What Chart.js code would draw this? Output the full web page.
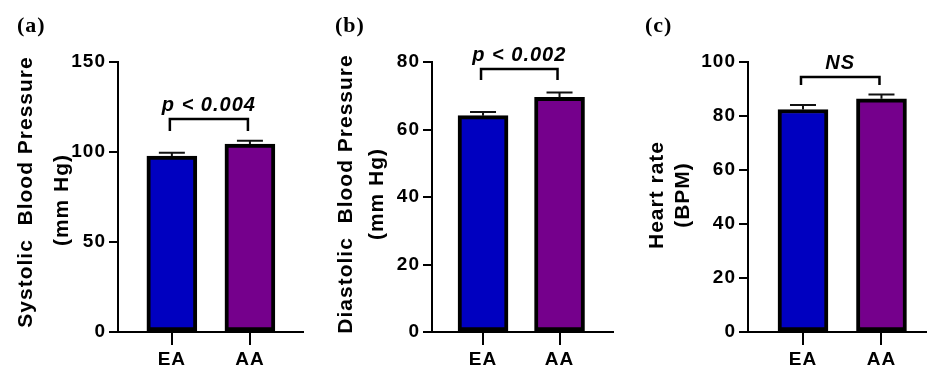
<!DOCTYPE html>
<html><head><meta charset="utf-8">
<script src="https://cdn.jsdelivr.net/npm/chart.js@4.4.0/dist/chart.umd.min.js"></script>
<style>
html,body{margin:0;padding:0;background:#fff;}
#wrap{position:relative;width:927px;height:369px;overflow:hidden;background:#fff;}
canvas{position:absolute;top:0;}
</style></head><body>
<div id="wrap">
<canvas id="ca" width="310" height="369" style="left:0px"></canvas>
<canvas id="cb" width="310" height="369" style="left:310px"></canvas>
<canvas id="cc" width="307" height="369" style="left:620px"></canvas>
</div>
<script>
// ---- data ----
const categories = ['EA', 'AA'];
const systolic = [97.8, 104.4];
const systolicErr = [1.8, 1.8];
const diastolic = [64.1, 69.5];
const diastolicErr = [1.1, 1.5];
const heartRate = [82.4, 86.4];
const heartRateErr = [1.7, 1.6];
const yMaxes = [150, 80, 100];
const ySteps = [50, 20, 20];
const pLabels = ['p < 0.004', 'p < 0.002', 'NS'];
const bracketLevels = [118.3, 77.9, 94.4];
const bracketFeet = [111.7, 74.7, 91.5];
const panelLabels = ['(a)', '(b)', '(c)'];
const yTitles = [['Systolic  Blood Pressure', '(mm Hg)'], ['Diastolic  Blood Pressure', '(mm Hg)'], ['Heart rate', '(BPM)']];

// ---- style ----
const FAM = '"Liberation Sans", Arial, Helvetica, sans-serif';
const LS = '1px';
const barColors = ['#0000C0', '#75008C'];
const panels = [
  {id:'ca', values:systolic, errors:systolicErr, yw:118, rp:7, xmin:0.31, xmax:2.68, tx:[26, 62], ty:[192, 200], lx:17},
  {id:'cb', values:diastolic, errors:diastolicErr, yw:122, rp:7, xmin:0.333, xmax:2.699, tx:[36, 67], ty:[194, 194], lx:25},
  {id:'cc', values:heartRate, errors:heartRateErr, yw:128, rp:0, xmin:0.2994, xmax:2.58, tx:[37, 63], ty:[195, 195], lx:25}
];

const decor = {
  id: 'decor',
  beforeUpdate(chart) { chart.ctx.letterSpacing = LS; },
  beforeDraw(chart) { chart.ctx.letterSpacing = LS; },
  afterDatasetsDraw(chart, args, o) {
    const ctx = chart.ctx, y = chart.scales.y;
    const meta = chart.getDatasetMeta(0);
    ctx.save();
    ctx.letterSpacing = LS;
    // error bars
    ctx.strokeStyle = '#111'; ctx.lineWidth = 2;
    meta.data.forEach((bar, i) => {
      const v = o.values[i], e = o.errors[i];
      const yb = y.getPixelForValue(v), yt = y.getPixelForValue(v + e);
      ctx.beginPath();
      ctx.moveTo(bar.x, yb); ctx.lineTo(bar.x, yt);
      ctx.moveTo(bar.x - 13, yt); ctx.lineTo(bar.x + 13, yt);
      ctx.stroke();
    });
    // significance bracket
    const x1 = meta.data[0].x - 2, x2 = meta.data[1].x - 2;
    const yl = y.getPixelForValue(o.level), yf = y.getPixelForValue(o.foot);
    ctx.strokeStyle = '#000'; ctx.lineWidth = 2.5;
    ctx.beginPath();
    ctx.moveTo(x1, yf); ctx.lineTo(x1, yl); ctx.lineTo(x2, yl); ctx.lineTo(x2, yf);
    ctx.stroke();
    ctx.fillStyle = '#000';
    ctx.font = 'italic bold 20px ' + FAM;
    ctx.textAlign = 'center'; ctx.textBaseline = 'middle';
    ctx.fillText(o.text, (x1 + x2) / 2, yl - 14);
    // y-axis title (two lines)
    ctx.font = 'bold 21px ' + FAM;
    o.title.forEach((line, k) => {
      ctx.save();
      ctx.translate(o.tx[k], o.ty[k]);
      ctx.rotate(-Math.PI / 2);
      ctx.fillText(line, 0, 0);
      ctx.restore();
    });
    // panel label
    ctx.font = 'bold 22px "Liberation Serif", "Times New Roman", serif';
    ctx.textAlign = 'left';
    ctx.fillText(o.label, o.lx, 26);
    ctx.restore();
  }
};

panels.forEach((p, n) => {
  const tickFont = {family: FAM, size: 19, weight: 'bold'};
  new Chart(document.getElementById(p.id), {
    type: 'bar',
    data: {
      datasets: [{
        data: categories.map((c, i) => ({x: i + 1, y: p.values[i]})),
        backgroundColor: barColors,
        borderColor: '#000',
        borderWidth: 4,
        borderSkipped: false,
        barThickness: 50
      }]
    },
    options: {
      responsive: false,
      animation: false,
      layout: {padding: {left: 0, right: p.rp, top: 62, bottom: 0}},
      plugins: {
        legend: {display: false},
        tooltip: {enabled: false},
        decor: {
          values: p.values, errors: p.errors,
          level: bracketLevels[n], foot: bracketFeet[n], text: pLabels[n],
          title: yTitles[n], tx: p.tx, ty: p.ty, label: panelLabels[n], lx: p.lx
        }
      },
      scales: {
        x: {
          type: 'linear', min: p.xmin, max: p.xmax, offset: false,
          afterBuildTicks: s => { s.ticks = categories.map((c, i) => ({value: i + 1})); },
          afterFit: s => { s.height = 37; },
          ticks: {callback: v => categories[v - 1] || '', font: tickFont, color: '#000', padding: 3, maxRotation: 0, autoSkip: false},
          grid: {offset: false, drawOnChartArea: false, drawTicks: true, tickLength: 13, color: '#000', lineWidth: 2},
          border: {display: true, color: '#000', width: 2}
        },
        y: {
          min: 0, max: yMaxes[n],
          afterFit: s => { s.width = p.yw; },
          ticks: {stepSize: ySteps[n], font: tickFont, color: '#000', padding: 3},
          grid: {drawOnChartArea: false, drawTicks: true, tickLength: 9, color: '#000', lineWidth: 2},
          border: {display: true, color: '#000', width: 2}
        }
      }
    },
    plugins: [decor]
  });
});
</script>
</body></html>
